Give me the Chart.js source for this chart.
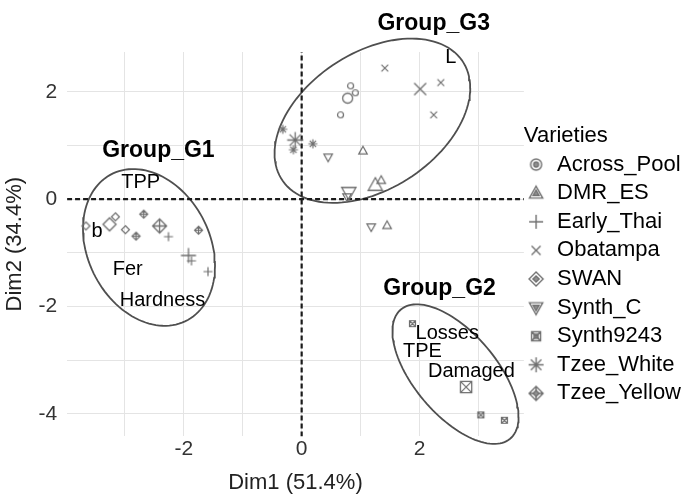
<!DOCTYPE html>
<html>
<head>
<meta charset="utf-8">
<script src="https://cdn.jsdelivr.net/npm/chart.js@4/dist/chart.umd.min.js"></script>
<style>
  html, body { margin: 0; padding: 0; background: #fff; }
</style>
</head>
<body>
<canvas id="biplot" width="691" height="497"></canvas>
<script>
// Axis limits, grid positions and labels
var X_MIN = -3.98, X_MAX = 3.77;
var Y_MIN = -4.42, Y_MAX = 2.74;
var xGrid = [-3, -2, -1, 0, 1, 2, 3];
var yGrid = [-4, -3, -2, -1, 0, 1, 2];
var xTitle = 'Dim1 (51.4%)';
var yTitle = 'Dim2 (34.4%)';

// Varieties (individuals) - three replicate points each, plus the group mean
var varieties = ['Across_Pool', 'DMR_ES', 'Early_Thai', 'Obatampa', 'SWAN', 'Synth_C', 'Synth9243', 'Tzee_White', 'Tzee_Yellow'];
var shapes    = ['circle', 'triangle', 'plus', 'cross', 'diamond', 'triangleDown', 'squareX', 'asterisk', 'diamondPlus'];

var ptsAcrossPool = [[0.83, 2.11], [0.91, 1.98], [0.66, 1.57]];
var ptsDMR_ES     = [[1.35, 0.35], [1.45, -0.49], [1.04, 0.90]];
var ptsEarlyThai  = [[-2.26, -0.70], [-1.87, -1.15], [-1.59, -1.35]];
var ptsObatampa   = [[1.41, 2.44], [2.36, 2.17], [2.24, 1.57]];
var ptsSWAN       = [[-3.66, -0.50], [-3.16, -0.33], [-2.99, -0.57]];
var ptsSynthC     = [[0.45, 0.78], [0.77, 0.04], [1.18, -0.52]];
var ptsSynth9243  = [[1.88, -2.32], [3.04, -4.02], [3.44, -4.12]];
var ptsTzeeWhite  = [[-0.32, 1.30], [-0.14, 0.92], [0.19, 1.03]];
var ptsTzeeYellow = [[-2.68, -0.28], [-2.81, -0.69], [-1.75, -0.58]];
var varietyPoints = [ptsAcrossPool, ptsDMR_ES, ptsEarlyThai, ptsObatampa, ptsSWAN, ptsSynthC, ptsSynth9243, ptsTzeeWhite, ptsTzeeYellow];

var meanX = [0.78, 1.25, -1.92, 2.01, -3.26, 0.80, 2.79, -0.11, -2.41];
var meanY = [1.88, 0.26, -1.05, 2.05, -0.47, 0.12, -3.50, 1.10, -0.50];

// Variable labels
var varLabels = ['TPP', 'b', 'Fer', 'Hardness', 'L', 'Losses', 'TPE', 'Damaged'];
var varX = [-2.73, -3.47, -2.95, -2.36, 2.53, 2.47, 2.05, 2.88];
var varY = [0.31, -0.61, -1.31, -1.89, 2.64, -2.51, -2.83, -3.21];

// Group ellipses: centre, half-extent on x and y, and phase shift (tilt)
var groupNames = ['Group_G1', 'Group_G2', 'Group_G3'];
var groupLabelX = [-2.43, 2.34, 2.24];
var groupLabelY = [0.90, -1.66, 3.27];
var ellCX = [-2.59, 2.61, 1.20];
var ellCY = [-0.90, -3.26, 1.46];
var ellXH = [1.12, 1.07, 1.66];
var ellYH = [1.46, 1.30, 1.53];
var ellDelta = [1.81, 2.23, 1.16];

var FONT = '"Liberation Sans", Arial, Helvetica, sans-serif';
var GREY = '#6e6e6e';
Chart.defaults.font.family = FONT;

// Shape drawing for point icons
function traceShape(g, shape, c, r) {
    var d;
    switch (shape) {
        case 'circle':
            g.moveTo(c + r, c); g.arc(c, c, r, 0, Math.PI * 2); break;
        case 'triangle':
            g.moveTo(c, c - r); g.lineTo(c + r * 0.95, c + r * 0.7); g.lineTo(c - r * 0.95, c + r * 0.7); g.closePath(); break;
        case 'triangleDown':
            g.moveTo(c, c + r); g.lineTo(c + r * 0.95, c - r * 0.7); g.lineTo(c - r * 0.95, c - r * 0.7); g.closePath(); break;
        case 'plus':
            g.moveTo(c - r, c); g.lineTo(c + r, c); g.moveTo(c, c - r); g.lineTo(c, c + r); break;
        case 'cross':
            d = r * 0.75;
            g.moveTo(c - d, c - d); g.lineTo(c + d, c + d); g.moveTo(c + d, c - d); g.lineTo(c - d, c + d); break;
        case 'diamond':
            g.moveTo(c, c - r); g.lineTo(c + r, c); g.lineTo(c, c + r); g.lineTo(c - r, c); g.closePath(); break;
        case 'squareX':
            d = r * 0.75;
            g.rect(c - d, c - d, 2 * d, 2 * d);
            g.moveTo(c - d, c - d); g.lineTo(c + d, c + d); g.moveTo(c + d, c - d); g.lineTo(c - d, c + d); break;
        case 'asterisk':
            d = r * 0.7;
            g.moveTo(c - r, c); g.lineTo(c + r, c); g.moveTo(c, c - r); g.lineTo(c, c + r);
            g.moveTo(c - d, c - d); g.lineTo(c + d, c + d); g.moveTo(c + d, c - d); g.lineTo(c - d, c + d); break;
        case 'diamondPlus':
            g.moveTo(c, c - r); g.lineTo(c + r, c); g.lineTo(c, c + r); g.lineTo(c - r, c); g.closePath();
            g.moveTo(c - r, c); g.lineTo(c + r, c); g.moveTo(c, c - r); g.lineTo(c, c + r); break;
    }
}

function makeIcon(shape, size, lw, color) {
    var s = Math.ceil(size + lw * 2 + 2);
    var cv = document.createElement('canvas');
    cv.width = s; cv.height = s;
    var g = cv.getContext('2d');
    g.strokeStyle = color; g.fillStyle = color; g.lineWidth = lw;
    g.beginPath();
    traceShape(g, shape, s / 2, size / 2);
    g.stroke();
    return cv;
}

// Legend glyph: the large shape with the small one drawn inside it
function makeLegendIcon(shape, size) {
    var s = Math.ceil(size + 4);
    var cv = document.createElement('canvas');
    cv.width = s; cv.height = s;
    var g = cv.getContext('2d');
    g.strokeStyle = '#707070'; g.fillStyle = '#909090'; g.lineWidth = 1.4;
    g.beginPath();
    traceShape(g, shape, s / 2, size / 2);
    g.stroke();
    if (shape !== 'plus' && shape !== 'cross' && shape !== 'asterisk') {
        g.beginPath();
        traceShape(g, shape === 'diamondPlus' ? 'diamond' : shape, s / 2, size / 4.5);
        g.fill(); g.stroke();
    }
    return cv;
}

var smallSize = { circle: 6, triangle: 9, triangleDown: 9, plus: 9, cross: 9, diamond: 8, squareX: 8, asterisk: 9, diamondPlus: 8 };
var largeSize = { circle: 10, triangle: 15, triangleDown: 15, plus: 15, cross: 16, diamond: 13, squareX: 15, asterisk: 16, diamondPlus: 14 };
var legendSize = { circle: 11, triangle: 14, triangleDown: 14, plus: 14, cross: 12, diamond: 14, squareX: 12, asterisk: 15, diamondPlus: 14 };

var datasets = [];
var legendIcons = [];

varieties.forEach(function(name, i) {
    var shape = shapes[i];
    var small = makeIcon(shape, smallSize[shape], 1.2, GREY);
    var large = makeIcon(shape, largeSize[shape], 1.3, GREY);
    var data = varietyPoints[i].map(function(p) { return { x: p[0], y: p[1] }; });
    data.push({ x: meanX[i], y: meanY[i] });
    legendIcons.push(makeLegendIcon(shape, legendSize[shape]));
    datasets.push({
        label: name,
        data: data,
        pointStyle: data.map(function(d, k) { return k === data.length - 1 ? large : small; }),
        pointRadius: 6,
        showLine: false
    });
});

// Zero reference lines (drawn above the ellipses)
datasets.push({
    label: 'h0', data: [{ x: X_MIN, y: 0 }, { x: X_MAX, y: 0 }],
    showLine: true, borderColor: '#1a1a1a', borderWidth: 2.2, borderDash: [5, 3], pointRadius: 0
});
datasets.push({
    label: 'v0', data: [{ x: 0, y: Y_MIN }, { x: 0, y: Y_MAX }],
    showLine: true, borderColor: '#1a1a1a', borderWidth: 2.2, borderDash: [5, 3], pointRadius: 0
});

// Concentration ellipses
groupNames.forEach(function(name, i) {
    var outline = [];
    for (var k = 0; k <= 120; k++) {
        var t = k / 120 * Math.PI * 2;
        outline.push({ x: ellCX[i] + ellXH[i] * Math.cos(t), y: ellCY[i] + ellYH[i] * Math.cos(t - ellDelta[i]) });
    }
    datasets.push({
        label: name,
        data: outline,
        showLine: true,
        borderColor: '#4f4f4f',
        borderWidth: 1.8,
        pointRadius: 0,
        clip: false
    });
});

var textLabels = {
    id: 'textLabels',
    afterDatasetsDraw: function(chart) {
        var ctx = chart.ctx, xs = chart.scales.x, ys = chart.scales.y;
        ctx.save();
        ctx.textAlign = 'center';
        ctx.textBaseline = 'middle';
        ctx.fillStyle = '#000';
        ctx.font = '20px ' + FONT;
        varLabels.forEach(function(t, i) {
            ctx.fillText(t, xs.getPixelForValue(varX[i]), ys.getPixelForValue(varY[i]));
        });
        ctx.font = 'bold 23px ' + FONT;
        groupNames.forEach(function(t, i) {
            ctx.fillText(t, xs.getPixelForValue(groupLabelX[i]), ys.getPixelForValue(groupLabelY[i]));
        });
        ctx.restore();
    }
};

function evenLabel(v) {
    return (Math.round(v) % 2 === 0) ? String(Math.round(v)) : '';
}

new Chart(document.getElementById('biplot'), {
    type: 'scatter',
    data: { datasets: datasets },
    plugins: [textLabels],
    options: {
        responsive: false,
        animation: false,
        events: [],
        layout: { padding: { top: 52, left: 2, right: 0, bottom: 1 } },
        plugins: {
            tooltip: { enabled: false },
            legend: {
                position: 'right',
                align: 'start',
                title: {
                    display: true,
                    text: 'Varieties',
                    position: 'start',
                    color: '#000',
                    font: { size: 22, lineHeight: 1.2 },
                    padding: { top: 73, bottom: 0 }
                },
                labels: {
                    usePointStyle: true,
                    boxWidth: 20,
                    boxHeight: 20,
                    padding: 2.2,
                    color: '#000',
                    font: { size: 22, lineHeight: 1.2 },
                    generateLabels: function() {
                        return varieties.map(function(name, i) {
                            return {
                                text: [name],
                                pointStyle: legendIcons[i],
                                fillStyle: GREY,
                                strokeStyle: GREY,
                                lineWidth: 0,
                                hidden: false,
                                fontColor: '#000',
                                datasetIndex: i
                            };
                        });
                    }
                }
            }
        },
        scales: {
            x: {
                min: X_MIN, max: X_MAX,
                afterBuildTicks: function(axis) { axis.ticks = xGrid.map(function(v) { return { value: v }; }); },
                ticks: { callback: evenLabel, color: '#333', font: { size: 21 }, padding: 0, maxRotation: 0, autoSkip: false },
                grid: { color: '#e4e4e4', lineWidth: 1, drawTicks: false },
                border: { display: false },
                title: { display: true, text: xTitle, color: '#222', font: { size: 22 }, padding: { top: 8, bottom: 0 } }
            },
            y: {
                min: Y_MIN, max: Y_MAX,
                afterBuildTicks: function(axis) { axis.ticks = yGrid.map(function(v) { return { value: v }; }); },
                ticks: { callback: evenLabel, color: '#333', font: { size: 21 }, padding: 10, autoSkip: false },
                grid: { color: '#e4e4e4', lineWidth: 1, drawTicks: false },
                border: { display: false },
                title: { display: true, text: yTitle, color: '#222', font: { size: 22 }, padding: { top: 0, bottom: 0 } }
            }
        }
    }
});
</script>
</body>
</html>
